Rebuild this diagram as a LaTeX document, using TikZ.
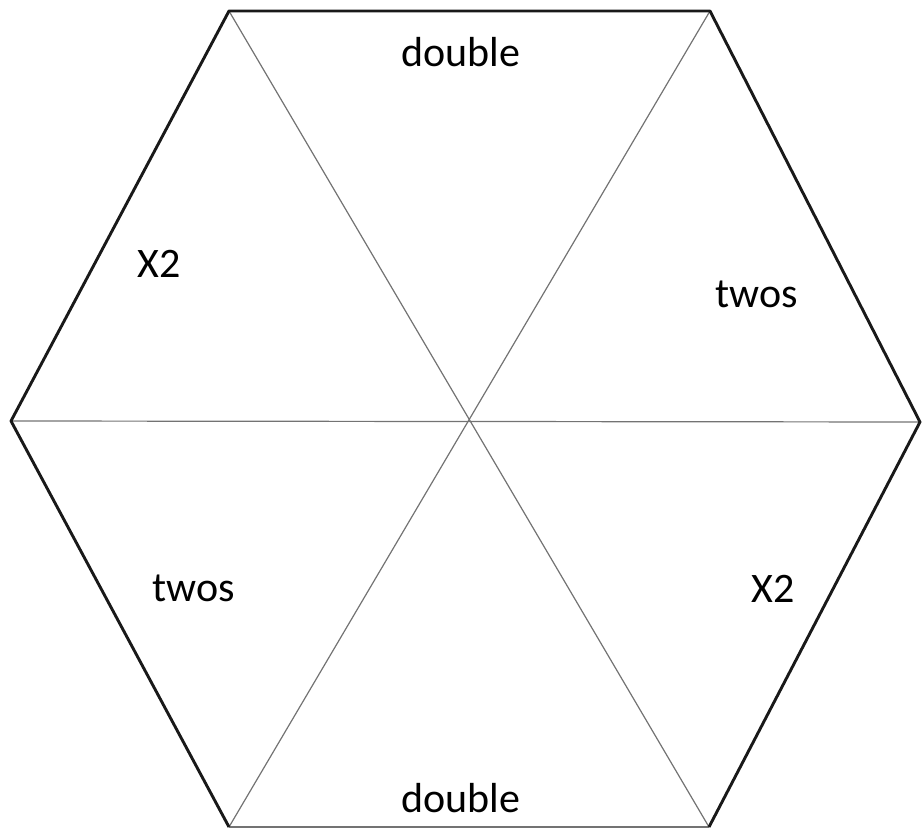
\documentclass[tikz,border=0pt]{standalone}
\usepackage{fontspec}
\setmainfont{Carlito}
\begin{document}
\begin{tikzpicture}[x=1pt,y=-1pt,
  outer/.style={line width=2.9pt,black!90,line join=round},
  inner/.style={line width=1.2pt,black!55},
  lbl/.style={font=\fontsize{42}{50}\selectfont,inner sep=0pt,anchor=base}]
\useasboundingbox (0,0) rectangle (922,829);
\coordinate (TL) at (229,11);
\coordinate (TR) at (710,11);
\coordinate (R) at (920,422);
\coordinate (BR) at (709,827);
\coordinate (BL) at (229,827);
\coordinate (L) at (11,421);
\coordinate (C) at (465,423);
% inner spokes
\draw[inner] (L) -- (R);
\draw[inner] (TL) -- (BR);
\draw[inner] (TR) -- (BL);
\draw[inner] (BL) -- (BR);
% outer edges
\draw[outer] (BL) -- (L) -- (TL) -- (TR) -- (R) -- (BR);
% labels
\node[lbl] (d1) at (461,67) {double};
\node[lbl] (x1) at (159,278) {X2};
\node[lbl] (t1) at (757,308) {twos};
\node[lbl] (t2) at (194,601) {twos};
\node[lbl] (x2) at (773,602) {X2};
\node[lbl] (d2) at (461,812) {double};
\end{tikzpicture}
\end{document}
